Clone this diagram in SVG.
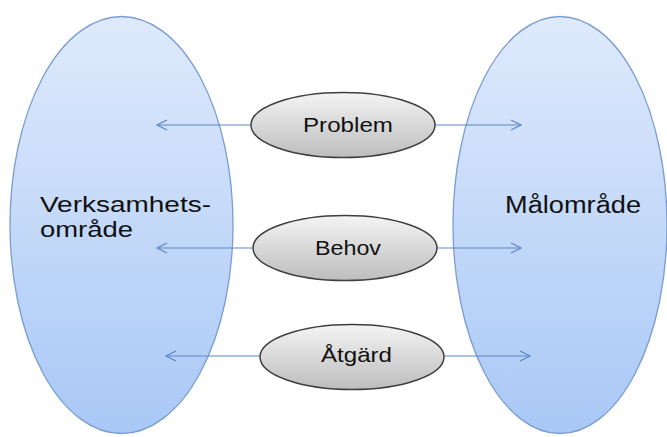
<svg xmlns="http://www.w3.org/2000/svg" width="667" height="437" viewBox="0 0 667 437">
  <style>
    .area { stroke: #7b9dd0; stroke-width: 1.3; }
    .item { stroke: #3f3f3f; stroke-width: 1.5; fill: url(#grey); }
    .lbl { font-family: "Liberation Sans", Arial, sans-serif; fill: #111; }
    .conn { stroke: #5f88c6; stroke-width: 1.2; fill: none; marker-end: url(#arrow); }
  </style>
  <defs>
    <linearGradient id="blue" x1="0" y1="0" x2="0" y2="1">
      <stop offset="0" stop-color="#dfeafc"/>
      <stop offset="1" stop-color="#a9c8f6"/>
    </linearGradient>
    <linearGradient id="grey" x1="0" y1="0" x2="0" y2="1">
      <stop offset="0" stop-color="#f4f4f4"/>
      <stop offset="1" stop-color="#bdbdbd"/>
    </linearGradient>
    <marker id="arrow" viewBox="0 0 12 12" refX="11" refY="6" markerWidth="12" markerHeight="12" markerUnits="userSpaceOnUse" orient="auto">
      <path d="M1,1 L11,6 L1,11" fill="none" stroke="#5f88c6" stroke-width="1.2"/>
    </marker>
  </defs>

  <rect width="667" height="437" fill="#ffffff"/>

  <g id="verksamhetsomrade">
    <ellipse class="area" cx="121.5" cy="225" rx="111.5" ry="208.5" fill="url(#blue)"/>
    <text class="lbl" font-size="22" x="40" y="212" textLength="171" lengthAdjust="spacingAndGlyphs">Verksamhets-</text>
    <text class="lbl" font-size="22" x="40" y="237" textLength="93" lengthAdjust="spacingAndGlyphs">område</text>
  </g>

  <g id="malomrade">
    <ellipse class="area" cx="560" cy="225" rx="107" ry="208.5" fill="url(#blue)"/>
    <text class="lbl" font-size="23" x="505" y="213" textLength="136" lengthAdjust="spacingAndGlyphs">Målområde</text>
  </g>

  <g id="connectors">
    <line class="conn" x1="251" y1="125" x2="157" y2="125"/>
    <line class="conn" x1="435" y1="125" x2="521" y2="125"/>
    <line class="conn" x1="253" y1="248" x2="157" y2="248"/>
    <line class="conn" x1="437" y1="248" x2="521" y2="248"/>
    <line class="conn" x1="260" y1="356" x2="166" y2="356"/>
    <line class="conn" x1="445" y1="356" x2="530" y2="356"/>
  </g>

  <g id="problem">
    <ellipse class="item" cx="343" cy="125" rx="92" ry="32.5"/>
    <text class="lbl" font-size="21" x="303" y="132" textLength="90" lengthAdjust="spacingAndGlyphs">Problem</text>
  </g>

  <g id="behov">
    <ellipse class="item" cx="345" cy="248" rx="92" ry="32.5"/>
    <text class="lbl" font-size="20" x="315" y="255" textLength="66" lengthAdjust="spacingAndGlyphs">Behov</text>
  </g>

  <g id="atgard">
    <ellipse class="item" cx="352" cy="357" rx="92" ry="32.5"/>
    <text class="lbl" font-size="21" x="321" y="362" textLength="71" lengthAdjust="spacingAndGlyphs">Åtgärd</text>
  </g>
</svg>
